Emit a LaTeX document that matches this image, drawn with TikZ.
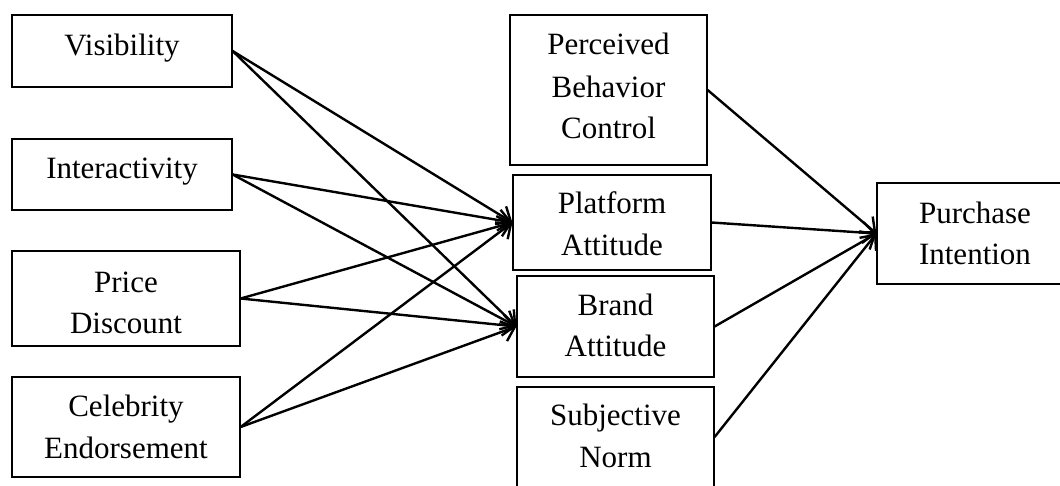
\documentclass[tikz,border=0pt]{standalone}
\usepackage{fontspec}
\setmainfont{Liberation Serif}
\usetikzlibrary{arrows.meta}
\begin{document}
\begin{tikzpicture}[x=1pt,y=-1pt,
 box/.style={draw=black, line width=1.2pt, inner sep=0pt},
 lbl/.style={anchor=base, inner sep=0pt, font=\fontsize{31}{36}\selectfont},
 arr/.style={line width=2.4pt, -{Straight Barb[length=12pt,width=21pt,line width=2.4pt]}}]
\useasboundingbox (0,0) rectangle (1060,485);
\clip (0,0) rectangle (1060,485);
% boxes
\node[box, minimum width=220pt, minimum height=72pt] (vis) at (122,51) {};
\node[box, minimum width=220pt, minimum height=71pt] (int) at (122,174.5) {};
\node[box, minimum width=228pt, minimum height=95pt] (pri) at (126,298.5) {};
\node[box, minimum width=228pt, minimum height=100pt] (cel) at (126,427) {};
\node[box, minimum width=197pt, minimum height=150pt] (pbc) at (608.5,90) {};
\node[box, minimum width=198pt, minimum height=95pt] (pla) at (612,222.5) {};
\node[box, minimum width=197pt, minimum height=101pt] (bra) at (615.5,326.5) {};
\node[box, minimum width=197pt, minimum height=100pt] (sub) at (615.5,437) {};
\node[box, minimum width=196pt, minimum height=101pt] (pur) at (975,233.5) {};
% labels
\node[lbl] (visA) at (122,55) {Visibility};
\node[lbl] (intA) at (122,178) {Interactivity};
\node[lbl] (priA) at (126,292) {Price};
\node[lbl] (priB) at (126,333) {Discount};
\node[lbl] (celA) at (126,416) {Celebrity};
\node[lbl] (celB) at (126,458) {Endorsement};
\node[lbl] (pbcA) at (608.5,54) {Perceived};
\node[lbl] (pbcB) at (608.5,97) {Behavior};
\node[lbl] (pbcC) at (608.5,138) {Control};
\node[lbl] (plaA) at (612,213) {Platform};
\node[lbl] (plaB) at (612,255) {Attitude};
\node[lbl] (braA) at (615.5,315) {Brand};
\node[lbl] (braB) at (615.5,356) {Attitude};
\node[lbl] (subA) at (615.5,425) {Subjective};
\node[lbl] (subB) at (615.5,467) {Norm};
\node[lbl] (purA) at (975,223) {Purchase};
\node[lbl] (purB) at (975,264) {Intention};
% connectors
\draw[arr] (vis.east) -- (pla.west);
\draw[arr] (vis.east) -- (bra.west);
\draw[arr] (int.east) -- (pla.west);
\draw[arr] (int.east) -- (bra.west);
\draw[arr] (pri.east) -- (pla.west);
\draw[arr] (pri.east) -- (bra.west);
\draw[arr] (cel.east) -- (pla.west);
\draw[arr] (cel.east) -- (bra.west);
\draw[arr] (pbc.east) -- (pur.west);
\draw[arr] (pla.east) -- (pur.west);
\draw[arr] (bra.east) -- (pur.west);
\draw[arr] (sub.east) -- (pur.west);
\end{tikzpicture}
\end{document}
